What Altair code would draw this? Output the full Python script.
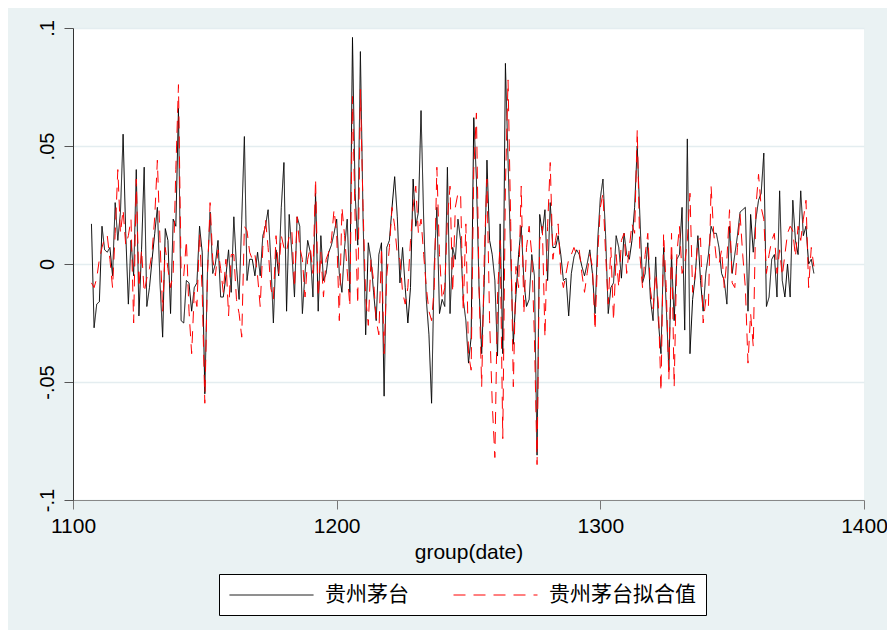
import altair as alt
import pandas as pd

# ---- data (in thousandths) ----
START_DATE = 1107
SERIES_NAMES = ["贵州茅台", "贵州茅台拟合值"]

ACTUAL_PERMILLE = [
    17, -27, -17, -16, 16, 6, 5, 7, -5, 26,
    10, 22, 55, 13, -17, 10, -5, 40, -22, 6,
    41, -18, -10, 2, 13, 24, -8, -31, 15, 10,
    -21, 19, 16, 66, -24, -25, -7, -8, -20, -10,
    -8, 16, 5, -55, -3, 22, -4, 0, 10, -14,
    -14, -5, 6, -12, 20, -1, -15, 19, 54, -7,
    2, 2, -5, 5, -5, 12, 16, 23, 2, -25,
    6, -5, 24, 43, -20, 21, 5, -14, 20, 16,
    -21, -4, 10, 5, -14, 30, -20, 12, -7, -4,
    5, 8, 13, 19, -4, -12, 7, 19, -12, 96,
    30, 8, 90, 20, -30, 9, 2, -12, -24, 4,
    9, -56, 7, 10, 24, 37, 20, -8, 7, -10,
    -25, -10, 36, 16, 22, 65, 19, -15, -30, -59,
    -1, 24, -21, -15, -18, 41, -21, 7, 2, 19,
    10, -15, -24, -42, -31, 62, 36, -10, -38, -7,
    44, 10, 4, -7, -39, 17, -38, 85, 44, 4,
    -34, -13, 4, 16, -7, -18, -15, 4, -5, -81,
    21, 13, 23, -7, 26, 7, 7, 12, 4, -7,
    -6, -22, -4, 3, 6, 4, -1, -5, 0, 6,
    -4, -21, 10, 28, 36, 12, -21, -10, -8, 12,
    7, -6, 13, 4, 2, 10, 24, 50, 20, -8,
    -4, 9, -15, -24, 3, -24, -38, 7, -18, -45,
    4, -24, 2, 4, 24, -28, 53, -38, -15, -5,
    12, -7, -20, -4, 4, 16, 13, 13, 7, -4,
    -7, -17, 16, -4, 4, 12, 22, 23, 24, -20,
    21, 5, 19, 27, 30, 47, -18, -14, 2, 4,
    -14, 31, -7, -14, 0, -14, 27, 10, 4, 31,
    12, 16, 0, 2, -4,
]

FITTED_PERMILLE = [
    -8, -10, -6, 2, 7, 11, 12, 2, -10, 13,
    40, 13, 23, 8, 12, 19, -25, 36, -10, 6,
    -12, -6, -2, 5, 20, 44, 10, -20, 7, -2,
    -10, -4, 40, 76, -4, -5, 10, -20, -38, -12,
    -18, 13, -12, -59, -5, 26, 2, -5, 6, -2,
    -12, 2, -22, 4, 4, -15, -21, -31, 16, 14,
    5, 2, 4, -5, -18, 7, 19, 7, -10, -15,
    12, -4, 12, 7, 5, 12, 14, -10, 20, 7,
    2, -14, 2, 7, -4, 36, -14, 5, -14, 2,
    5, 10, 23, 13, -24, 24, 12, -3, -18, 71,
    19, -17, 74, 24, -14, -26, 2, -7, -24, -30,
    7, -38, -5, 7, 24, 16, 4, 2, -12, -17,
    -10, 10, 24, 33, 13, 19, 4, -10, -20, -24,
    -10, 41, 4, -15, -10, 19, 33, -12, 24, 30,
    30, -20, 17, -38, -45, 40, 64, -10, -52, 4,
    36, -24, -59, -82, -14, 10, -74, 33, 78, 18,
    -52, -1, -10, 33, -21, 7, 16, 4, -31, -85,
    10, 16, -31, 16, 43, 2, 10, 17, -4, -10,
    -4, 2, 4, 7, 4, 6, -4, -12, -4, 4,
    -1, -28, 4, 24, 30, 4, -17, 7, -24, 4,
    -10, 10, 13, -4, 7, 17, 13, 57, 4, -10,
    4, 13, -11, -19, -4, -17, -54, 13, -10, -49,
    13, -52, 4, 16, -4, 0, 10, 30, -12, -4,
    10, 11, -25, -15, -18, 33, 13, 2, 0, 6,
    -10, 2, 23, -8, -10, 7, 21, 4, -10, -42,
    -21, -35, 24, 38, 24, 19, -4, 4, 10, 13,
    -4, 6, -5, 4, 13, 16, 14, 3, 16, 10,
    19, 27, -10, 7, -1,
]

X_TICKS = [1100, 1200, 1300, 1400]
Y_TICKS = [-0.1, -0.05, 0, 0.05, 0.1]
Y_TICK_LABELS = ["-.1", "-.05", "0", ".05", ".1"]

# ---- build table ----
rows = []
for name, vals in zip(SERIES_NAMES, [ACTUAL_PERMILLE, FITTED_PERMILLE]):
    for i, v in enumerate(vals):
        rows.append({"date": START_DATE + i, "value": v / 1000.0, "series": name})
df = pd.DataFrame(rows)

y_label_expr = ""
for v, lab in zip(Y_TICKS, Y_TICK_LABELS):
    y_label_expr += f"abs(datum.value - ({v})) < 1e-6 ? '{lab}' : "
y_label_expr += "''"

BG = "#eaf2f3"

chart = (
    alt.Chart(df)
    .mark_line(strokeWidth=1, clip=True)
    .encode(
        x=alt.X(
            "date:Q",
            title="group(date)",
            scale=alt.Scale(domain=[1100, 1400], nice=False, zero=False),
            axis=alt.Axis(
                values=X_TICKS,
                format="d",
                grid=False,
                labelFlush=False,
                domainColor="#888888",
                tickColor="#777777",
                tickSize=9,
                labelFontSize=21,
                labelPadding=6,
                labelColor="#000000",
                labelFont="Liberation Sans",
                titleFont="Liberation Sans",
                titleFontSize=21,
                titleFontWeight="normal",
                titleColor="#000000",
                titlePadding=5,
            ),
        ),
        y=alt.Y(
            "value:Q",
            title=None,
            scale=alt.Scale(domain=[-0.1, 0.1], nice=False, zero=False),
            axis=alt.Axis(
                values=Y_TICKS,
                labelExpr=y_label_expr,
                labelFlush=False,
                grid=True,
                gridColor="#e4edf0",
                gridWidth=1.5,
                domainColor="#333333",
                tickColor="#555555",
                tickSize=9,
                labelAngle=270,
                labelAlign="center",
                labelBaseline="bottom",
                labelFontSize=20,
                labelPadding=7,
                labelColor="#000000",
                labelFont="Liberation Sans",
            ),
        ),
        color=alt.Color(
            "series:N",
            title=None,
            scale=alt.Scale(domain=SERIES_NAMES, range=["#000000", "#ff0000"]),
        ),
        strokeDash=alt.StrokeDash(
            "series:N",
            title=None,
            scale=alt.Scale(domain=SERIES_NAMES, range=[[1, 0], [12, 8]]),
        ),
        detail="series:N",
    )
    .properties(
        width=791,
        height=472,
        autosize=alt.AutoSizeParams(type="none"),
        padding={"left": 65, "top": 20, "right": 23, "bottom": 130},
        background=BG,
    )
    .configure_view(fill="#ffffff", stroke=None)
    .configure_legend(
        orient="none",
        legendX=146,
        legendY=546,
        direction="horizontal",
        fillColor="#ffffff",
        strokeColor="#000000",
        padding=10,
        symbolType="M-1,0H7",
        symbolSize=441,
        symbolStrokeWidth=1,
        labelFont="Noto Sans CJK SC",
        labelFontSize=21,
        labelColor="#000000",
        labelOffset=74,
        columnPadding=42,
        labelLimit=400,
    )
)

chart.save("out.html", embed_options={"renderer": "svg", "actions": False})
